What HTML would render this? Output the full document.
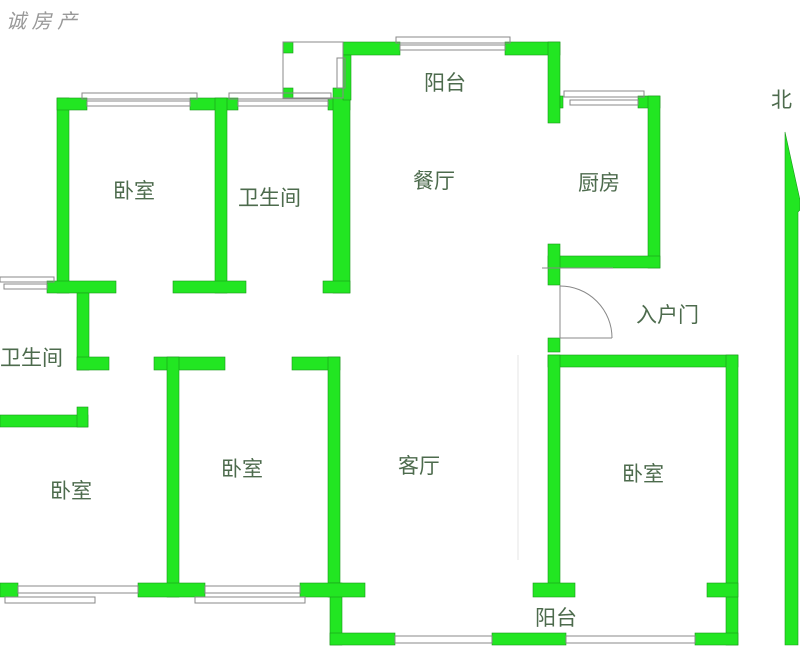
<!DOCTYPE html>
<html><head><meta charset="utf-8"><style>
html,body{margin:0;padding:0;background:#fff;width:800px;height:650px;overflow:hidden}
svg{display:block}
text{font-family:"Liberation Sans","Noto Sans CJK SC",sans-serif;fill:#4d6b4d;font-size:21px}
</style></head><body>
<svg width="800" height="650" viewBox="0 0 800 650" xmlns="http://www.w3.org/2000/svg">
<g fill="#22e622" stroke="#1a9a1a" stroke-width="0.6">
<!-- top-left bedroom -->
<rect x="57" y="98" width="12" height="195"/>
<rect x="57" y="98" width="30" height="12"/>
<rect x="190" y="98" width="48" height="12"/>
<rect x="215" y="98" width="12" height="195"/>
<rect x="173" y="281" width="73" height="12"/>
<rect x="47" y="281" width="69" height="12"/>
<rect x="77" y="293" width="12" height="77"/>
<rect x="77" y="357" width="32" height="13"/>
<!-- bath top -->
<rect x="328" y="98" width="22" height="12"/>
<rect x="333" y="88" width="17" height="205"/>
<rect x="323" y="281" width="27" height="12"/>
<!-- small box squares -->
<rect x="283" y="42" width="10" height="11"/>
<rect x="283" y="88" width="10" height="10"/>
<!-- main top -->
<rect x="343" y="42" width="57" height="13"/>
<rect x="343" y="55" width="8" height="45"/>
<rect x="505" y="42" width="55" height="13"/>
<rect x="548" y="42" width="12" height="81"/>
<rect x="560" y="96" width="3" height="12"/>
<rect x="638" y="96" width="22" height="12"/>
<rect x="648" y="96" width="12" height="172"/>
<rect x="548" y="256" width="112" height="12"/>
<rect x="548" y="244" width="12" height="41"/>
<rect x="548" y="338" width="12" height="14"/>
<!-- right bedroom -->
<rect x="548" y="355" width="190" height="12"/>
<rect x="548" y="355" width="12" height="235"/>
<rect x="726" y="355" width="12" height="290"/>
<rect x="533" y="583" width="42" height="14"/>
<rect x="707" y="583" width="31" height="14"/>
<!-- middle bedroom -->
<rect x="154" y="357" width="71" height="13"/>
<rect x="167" y="357" width="12" height="240"/>
<rect x="292" y="357" width="48" height="13"/>
<rect x="328" y="357" width="12" height="240"/>
<rect x="330" y="583" width="12" height="62"/>
<!-- bottom row -->
<rect x="0" y="583" width="18" height="14"/>
<rect x="138" y="583" width="67" height="14"/>
<rect x="300" y="583" width="65" height="14"/>
<rect x="330" y="633" width="65" height="12"/>
<rect x="492" y="633" width="74" height="12"/>
<rect x="695" y="633" width="43" height="12"/>
<!-- left bath bottom -->
<rect x="0" y="415" width="88" height="12"/>
<rect x="77" y="407" width="11" height="20"/>
<!-- north arrow -->
<path d="M785 132 L800 200 L800 210 L798 212 L798 645 L785 645 Z"/>
</g>
<g fill="none" stroke="#888" stroke-width="1">
<!-- windows -->
<rect x="82" y="93" width="115" height="6"/><rect x="87" y="101" width="103" height="5"/>
<rect x="229" y="93" width="102" height="6"/><rect x="238" y="101" width="90" height="5"/>
<rect x="396" y="37" width="114" height="6"/><rect x="400" y="45" width="105" height="5"/>
<rect x="564" y="91" width="80" height="6"/><rect x="570" y="100" width="68" height="5"/>
<rect x="0" y="277" width="54" height="5"/><rect x="4" y="284" width="43" height="5"/>
<rect x="283" y="42" width="60" height="56"/>
<rect x="337" y="58" width="8" height="30"/>
<rect x="5" y="597" width="90" height="6"/><rect x="18" y="586" width="120" height="7"/>
<rect x="195" y="597" width="110" height="6"/><rect x="205" y="586" width="95" height="7"/>
<rect x="395" y="636" width="97" height="7"/>
<rect x="566" y="636" width="129" height="7"/>
<!-- door -->
<path d="M560 285 L560 338 L612 338"/>
<path d="M560 286 A 52 52 0 0 1 612 338" />
<line x1="542" y1="268" x2="613" y2="268"/>
</g>
<line x1="518" y1="355" x2="518" y2="560" stroke="#e6e6e6" stroke-width="1"/>
<text x="6" y="28" style="fill:#999;font-style:italic;font-size:20px">诚 房 产</text>
<text x="113" y="198">卧室</text>
<text x="238" y="205">卫生间</text>
<text x="424" y="90">阳台</text>
<text x="413" y="188">餐厅</text>
<text x="578" y="190">厨房</text>
<text x="636" y="322">入户门</text>
<text x="771" y="107">北</text>
<text x="0" y="365">卫生间</text>
<text x="50" y="498">卧室</text>
<text x="221" y="476">卧室</text>
<text x="398" y="473">客厅</text>
<text x="622" y="481">卧室</text>
<text x="535" y="625">阳台</text>
</svg>
</body></html>
